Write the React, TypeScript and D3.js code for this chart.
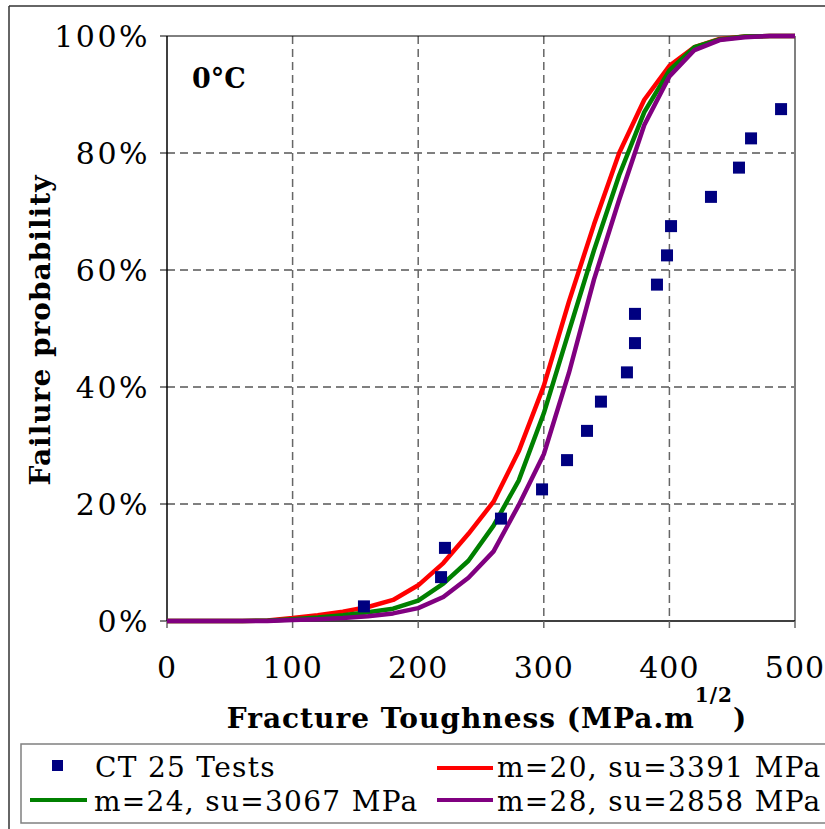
import React from "react";
import * as d3 from "d3";

const kGrid = [0, 20, 40, 60, 80, 100, 120, 140, 160, 180, 200, 220, 240, 260, 280, 300, 320, 340, 360, 380, 400, 420, 440, 460, 480, 500];
const redM20 = [0, 0, 0, 0, 0.1, 0.5, 1.0, 1.6, 2.4, 3.6, 6.1, 9.9, 14.9, 20.4, 29.0, 40.2, 54.6, 67.8, 80.0, 89.1, 94.9, 98.1, 99.5, 99.9, 100, 100];
const greenM24 = [0, 0, 0, 0, 0.05, 0.3, 0.6, 1.0, 1.5, 2.1, 3.5, 6.4, 10.3, 16.3, 24.0, 35.5, 49.5, 63.4, 76.2, 87.0, 94.1, 98.1, 99.4, 99.9, 100, 100];
const purpleM28 = [0, 0, 0, 0, 0, 0.15, 0.3, 0.5, 0.8, 1.3, 2.2, 4.1, 7.4, 11.9, 19.8, 28.5, 42.4, 58.4, 72.0, 84.8, 93.1, 97.6, 99.3, 99.8, 100, 100];

const testK = [156.8, 218.2, 221.3, 265.9, 298.6, 318.5, 334.4, 345.5, 366.2, 372.6, 372.6, 390.1, 398.1, 401.3, 433.1, 455.4, 465.0, 488.9];
const testP = [2.5, 7.5, 12.5, 17.5, 22.5, 27.5, 32.5, 37.5, 42.5, 47.5, 52.5, 57.5, 62.5, 67.5, 72.5, 77.5, 82.5, 87.5];

const xTicks = [0, 100, 200, 300, 400, 500];
const yTicks = [0, 20, 40, 60, 80, 100];

const seriesNames = ["CT 25 Tests", "m=20, su=3391 MPa", "m=24, su=3067 MPa", "m=28, su=2858 MPa"];
const seriesColors = ["#000080", "#ff0000", "#008000", "#800080"];

const FONT = "'DejaVu Serif', serif";

export default function App() {
  const x = d3.scaleLinear().domain([0, 500]).range([167, 795]);
  const y = d3.scaleLinear().domain([0, 100]).range([621, 36]);
  const line = d3
    .line<number>()
    .x((_, i) => x(kGrid[i]))
    .y((d) => y(d));

  const curves = [
    { data: redM20, color: seriesColors[1] },
    { data: greenM24, color: seriesColors[2] },
    { data: purpleM28, color: seriesColors[3] },
  ];

  return (
    <svg
      width={825}
      height={829}
      style={{ position: "absolute", left: 0, top: 0, background: "#fff" }}
      fontFamily={FONT}
    >
      <rect x={0} y={0} width={825} height={829} fill="#fff" />
      {/* outer chart border */}
      <line x1={9} y1={6} x2={825} y2={6} stroke="#333" strokeWidth={1.5} />
      <line x1={9} y1={6} x2={9} y2={829} stroke="#333" strokeWidth={1.5} />

      {/* gridlines */}
      {yTicks
        .filter((t) => t > 0 && t < 100)
        .map((t) => (
          <line key={"gy" + t} x1={x(0)} x2={x(500)} y1={y(t)} y2={y(t)} stroke="#000" strokeWidth={1} strokeDasharray="8,5" />
        ))}
      {xTicks
        .filter((t) => t > 0 && t < 500)
        .map((t) => (
          <line key={"gx" + t} x1={x(t)} x2={x(t)} y1={y(100)} y2={y(0)} stroke="#666" strokeWidth={1.5} strokeDasharray="8,5" />
        ))}

      {/* plot border: top and right */}
      <line x1={x(0)} x2={x(500)} y1={y(100)} y2={y(100)} stroke="#000" strokeWidth={1} />
      <line x1={x(500)} x2={x(500)} y1={y(100)} y2={y(0)} stroke="#808080" strokeWidth={2} />

      {/* axes */}
      <line x1={x(0)} x2={x(0)} y1={y(100)} y2={y(0)} stroke="#000" strokeWidth={1.5} />
      <line x1={x(0)} x2={x(500)} y1={y(0)} y2={y(0)} stroke="#000" strokeWidth={1.5} />
      {yTicks.map((t) => (
        <g key={"yt" + t}>
          <line x1={x(0) - 7} x2={x(0)} y1={y(t)} y2={y(t)} stroke="#000" strokeWidth={1} />
          <text x={150} y={y(t) + 11} textAnchor="end" fontSize={30} letterSpacing={2.5} fill="#000">
            {t + "%"}
          </text>
        </g>
      ))}
      {xTicks.map((t) => (
        <g key={"xt" + t}>
          <line x1={x(t)} x2={x(t)} y1={y(0)} y2={y(0) + 7} stroke="#666" strokeWidth={1.5} />
          <text x={x(t)} y={678} textAnchor="middle" fontSize={30} letterSpacing={1} fill="#000">
            {t}
          </text>
        </g>
      ))}

      {/* curves */}
      {curves.map((c, i) => (
        <path key={"c" + i} d={line(c.data) || ""} fill="none" stroke={c.color} strokeWidth={4.5} strokeLinejoin="round" />
      ))}

      {/* test points */}
      {testK.map((k, i) => (
        <rect key={"p" + i} x={x(k) - 6} y={y(testP[i]) - 6} width={12} height={12} fill={seriesColors[0]} />
      ))}

      {/* annotation */}
      <text x={192} y={88} fontSize={27} fontWeight="bold" fill="#000">
        0°C
      </text>

      {/* axis titles */}
      <text x={487} y={728} textAnchor="middle" fontSize={28} fontWeight="bold" letterSpacing={1} fill="#000">
        Fracture Toughness (MPa.m
        <tspan fontSize={20} dy={-26}>1/2</tspan>
        <tspan fontSize={28} dy={26}>)</tspan>
      </text>
      <text
        transform={`translate(50,${330}) rotate(-90)`}
        textAnchor="middle"
        fontSize={28}
        fontWeight="bold"
        letterSpacing={1}
        fill="#000"
      >
        Failure probability
      </text>

      {/* legend */}
      <rect x={21} y={744} width={830} height={79} fill="#fff" stroke="#808080" strokeWidth={1.5} />
      <rect x={52} y={760} width={11} height={11} fill={seriesColors[0]} />
      <text x={95} y={777} fontSize={28} letterSpacing={1.3} fill="#000">
        {seriesNames[0]}
      </text>
      <line x1={437} x2={493} y1={768} y2={768} stroke={seriesColors[1]} strokeWidth={4} />
      <text x={497} y={777} fontSize={28} letterSpacing={1.3} fill="#000">
        {seriesNames[1]}
      </text>
      <line x1={30} x2={87} y1={800} y2={800} stroke={seriesColors[2]} strokeWidth={4} />
      <text x={94} y={811} fontSize={28} letterSpacing={1.3} fill="#000">
        {seriesNames[2]}
      </text>
      <line x1={437} x2={493} y1={800} y2={800} stroke={seriesColors[3]} strokeWidth={4} />
      <text x={497} y={811} fontSize={28} letterSpacing={1.3} fill="#000">
        {seriesNames[3]}
      </text>
    </svg>
  );
}
